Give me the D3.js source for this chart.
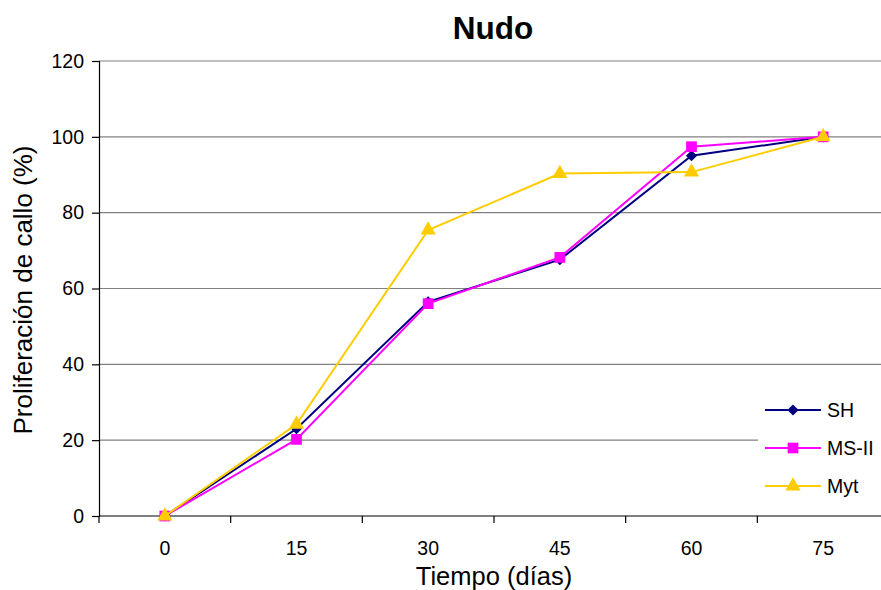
<!DOCTYPE html>
<html>
<head>
<meta charset="utf-8">
<script src="https://cdn.jsdelivr.net/npm/d3@7"></script>
<style>
  html, body { margin: 0; padding: 0; background: #fff; }
  svg { display: block; font-family: "Liberation Sans", Arial, sans-serif; }
</style>
</head>
<body>
<svg id="chart" width="881" height="590"></svg>
<script>
// Days after culture start
const days = ["0", "15", "30", "45", "60", "75"];
// Callus proliferation (%) per medium
const shValues = [0, 23, 56.5, 67.6, 95, 100];
const msValues = [0, 20.2, 56, 68.2, 97.4, 100];
const mytValues = [0, 24.2, 75.4, 90.3, 90.7, 100];
const yTicks = [0, 20, 40, 60, 80, 100, 120];

// diamond drawn as a square turned by 45 degrees
const series = [
  { name: "SH", values: shValues, color: "#000080", symbol: d3.symbolSquare, size: 62, rotate: 45 },
  { name: "MS-II", values: msValues, color: "#FF00FF", symbol: d3.symbolSquare, size: 115, rotate: 0 },
  { name: "Myt", values: mytValues, color: "#FFCC00", symbol: d3.symbolTriangle, size: 100, rotate: 0 }
];

const svg = d3.select("#chart");
const plotLeft = 99, plotRight = 889, plotTop = 61, plotBottom = 516;

const x = d3.scaleBand().domain(days).range([plotLeft, plotRight]);
const y = d3.scaleLinear().domain([0, 120]).range([plotBottom, plotTop]);

// horizontal gridlines
svg.append("g")
  .selectAll("line")
  .data(yTicks.filter(t => t > 0))
  .join("line")
  .attr("x1", plotLeft).attr("x2", plotRight)
  .attr("y1", d => y(d)).attr("y2", d => y(d))
  .attr("stroke", "#808080").attr("stroke-width", 1.2);

// y axis
const yAxis = svg.append("g")
  .attr("transform", `translate(${plotLeft},0)`)
  .call(d3.axisLeft(y).tickValues(yTicks).tickSize(7).tickPadding(8));
yAxis.select(".domain").attr("stroke", "#000").attr("stroke-width", 1.2);
yAxis.selectAll(".tick line").attr("stroke", "#000").attr("stroke-width", 1.2);
yAxis.selectAll("text").attr("font-size", 19.5).attr("fill", "#000")
  .attr("font-family", "Liberation Sans, Arial, sans-serif");

// x axis with ticks on category boundaries
const xAxis = svg.append("g")
  .attr("transform", `translate(0,${plotBottom})`)
  .call(d3.axisBottom(x).tickSize(0).tickPadding(25));
xAxis.select(".domain").remove();
xAxis.append("line")
  .attr("x1", plotLeft).attr("x2", plotRight)
  .attr("stroke", "#000").attr("stroke-width", 1.2);
xAxis.selectAll(".boundary")
  .data(days.map(d => x(d)).concat([plotRight]))
  .join("line")
  .attr("class", "boundary")
  .attr("x1", d => d).attr("x2", d => d)
  .attr("y1", 0).attr("y2", 7)
  .attr("stroke", "#000").attr("stroke-width", 1.2);
xAxis.selectAll("text").attr("font-size", 19.5).attr("fill", "#000")
  .attr("font-family", "Liberation Sans, Arial, sans-serif");

// series lines and markers
const line = d3.line()
  .x((d, i) => x(days[i]) + x.bandwidth() / 2)
  .y(d => y(d));

series.forEach(s => {
  const g = svg.append("g");
  g.append("path")
    .datum(s.values)
    .attr("d", line)
    .attr("fill", "none")
    .attr("stroke", s.color)
    .attr("stroke-width", 2);
  g.selectAll("path.mark")
    .data(s.values)
    .join("path")
    .attr("class", "mark")
    .attr("d", d3.symbol().type(s.symbol).size(s.size))
    .attr("transform", (d, i) => `translate(${x(days[i]) + x.bandwidth() / 2},${y(d)}) rotate(${s.rotate})`)
    .attr("fill", s.color);
});

// legend
const legend = svg.append("g");
legend.append("rect")
  .attr("x", 758).attr("y", 392).attr("width", 123).attr("height", 114)
  .attr("fill", "#fff");
series.forEach((s, i) => {
  const ly = 410 + i * 38;
  legend.append("line")
    .attr("x1", 765).attr("x2", 821).attr("y1", ly).attr("y2", ly)
    .attr("stroke", s.color).attr("stroke-width", 2);
  legend.append("path")
    .attr("d", d3.symbol().type(s.symbol).size(s.size)())
    .attr("transform", `translate(793,${ly}) rotate(${s.rotate})`)
    .attr("fill", s.color);
  legend.append("text")
    .attr("x", 827).attr("y", ly + 7)
    .attr("font-size", 19.5).attr("fill", "#000")
    .text(s.name);
});

// titles
svg.append("text")
  .attr("x", 493).attr("y", 38.5)
  .attr("text-anchor", "middle")
  .attr("font-size", 31.5).attr("font-weight", "bold")
  .text("Nudo");

svg.append("text")
  .attr("x", 494).attr("y", 585)
  .attr("text-anchor", "middle")
  .attr("font-size", 25.5)
  .text("Tiempo (días)");

svg.append("text")
  .attr("transform", "translate(32,290) rotate(-90)")
  .attr("text-anchor", "middle")
  .attr("font-size", 26)
  .text("Proliferación de callo (%)");
</script>
</body>
</html>
